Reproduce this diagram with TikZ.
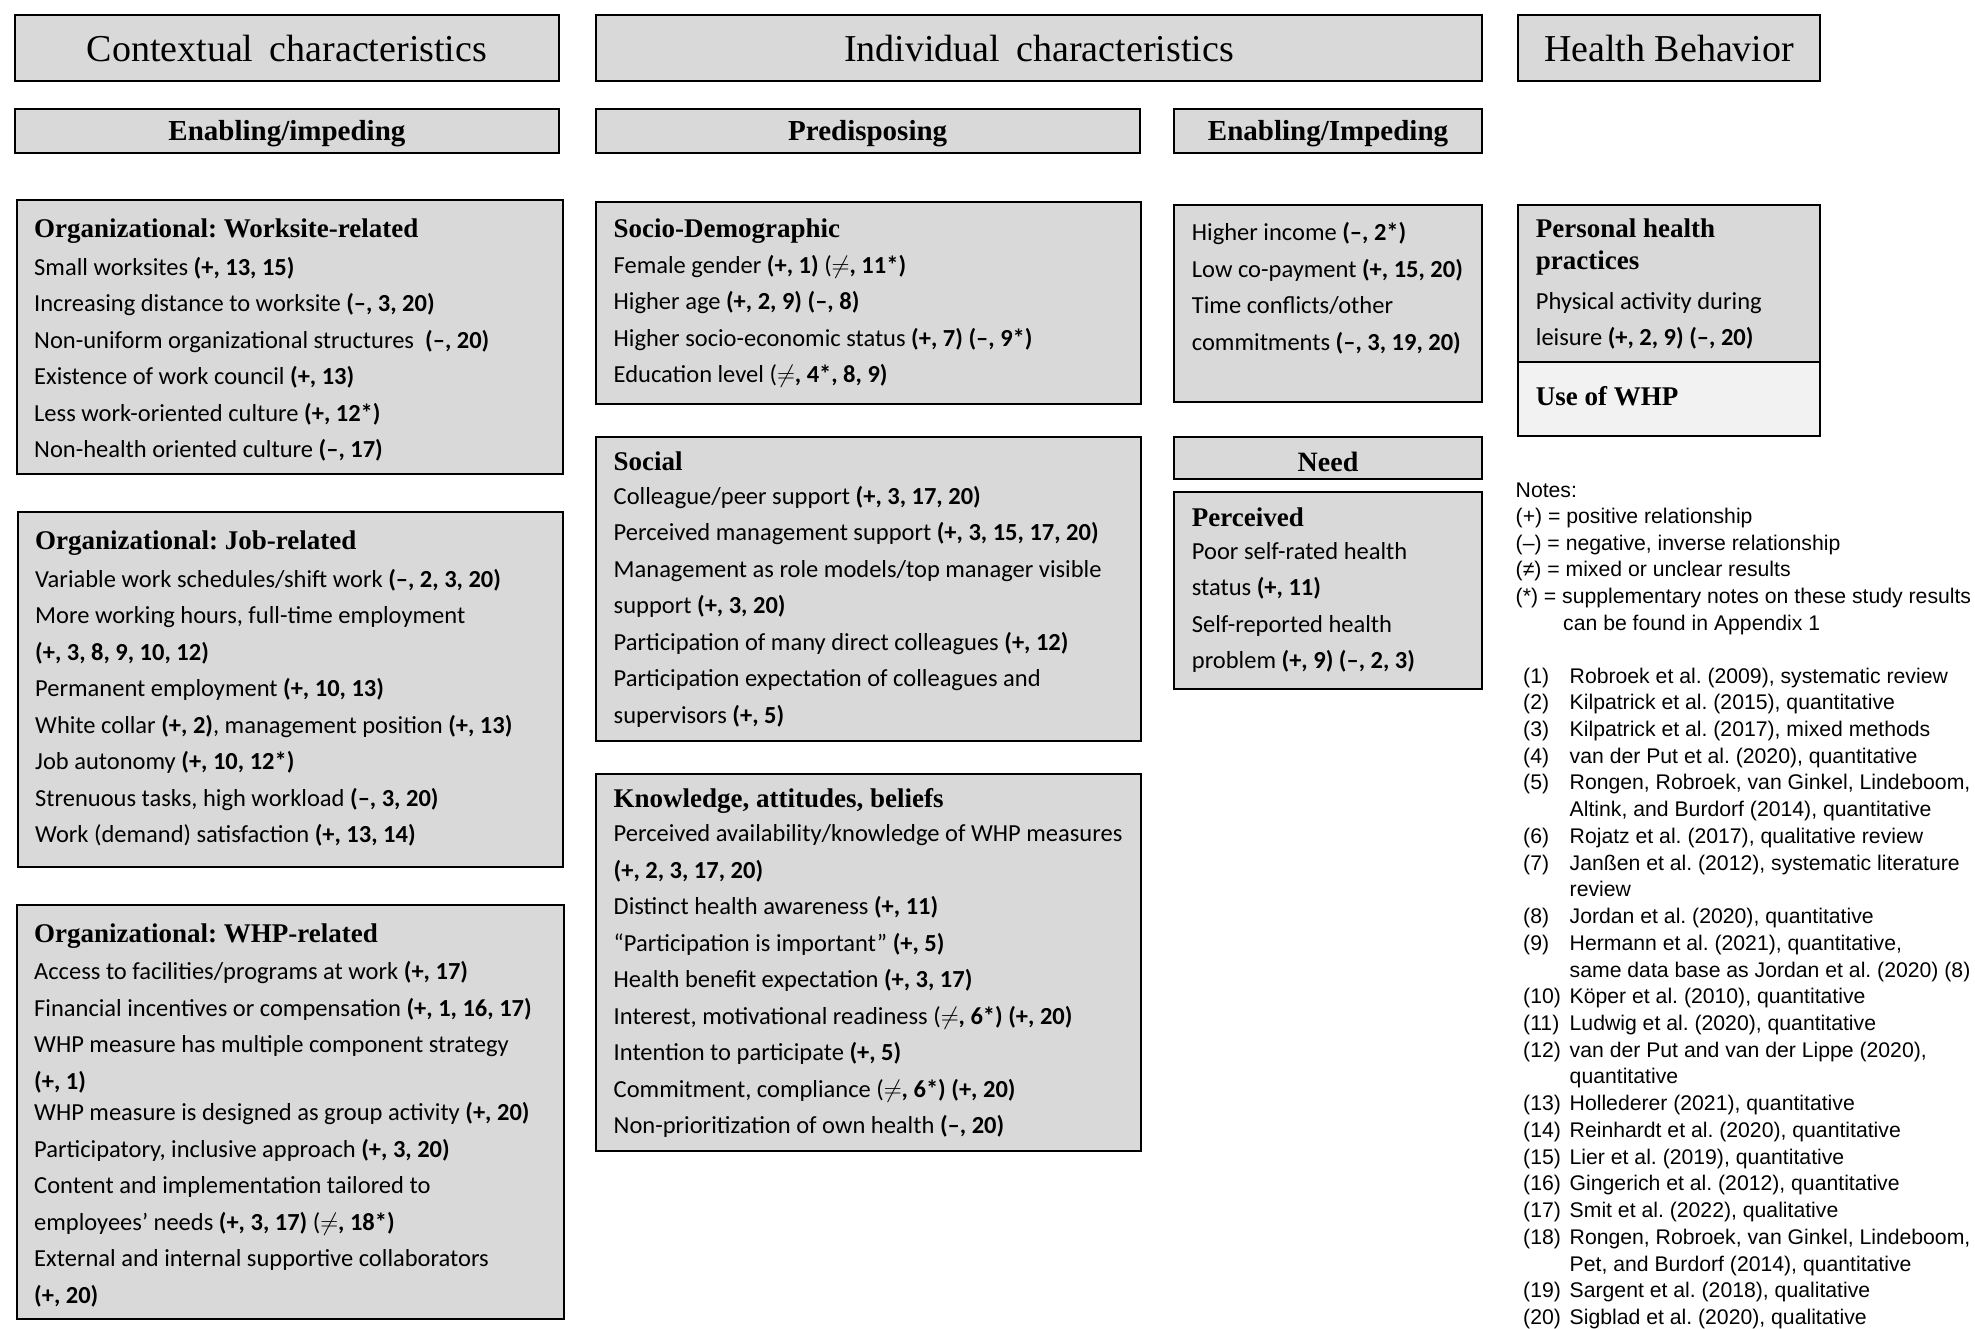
\documentclass[tikz,border=0pt]{standalone}
\usepackage{fontspec}
\setmainfont{Liberation Serif}
\newfontfamily\bodyfont{Carlito}
\newfontfamily\notefont{Liberation Sans}
\usetikzlibrary{calc}
\definecolor{panelgray}{HTML}{D9D9D9}
\definecolor{lightpanel}{HTML}{F2F2F2}
\frenchspacing

% a block of left-aligned lines whose baseline is the first line's
\newcommand{\linestack}[1]{\begin{tabular}[t]{@{}l@{}}#1\end{tabular}}
\newcommand{\refnum}[1]{\makebox[46.5pt][l]{#1}}

\tikzset{
  panel/.style={draw=black, line width=2.4pt, fill=panelgray, inner sep=0pt, anchor=north west},
  headtext/.style={anchor=base, inner sep=0pt, font=\fontsize{38}{40}\selectfont},
  subtext/.style={anchor=base, inner sep=0pt, font=\bfseries\fontsize{29}{32}\selectfont},
  titletext/.style={anchor=base west, inner sep=0pt, font=\bfseries\fontsize{27}{32}\selectfont},
  bodytext/.style={anchor=base west, inner sep=0pt, font=\bodyfont\fontsize{24.5}{36.5}\selectfont},
  notetext/.style={anchor=base west, inner sep=0pt, font=\notefont\fontsize{21.2}{26.6}\selectfont},
  reftext/.style={anchor=base west, inner sep=0pt, font=\notefont\fontsize{21.2}{26.73}\selectfont},
}

\begin{document}
\begin{tikzpicture}[x=1pt, y=-1pt]
\useasboundingbox (0,0) rectangle (1975,1328);
\fill[white] (0,0) rectangle (1975,1328);

% ---------- column headers ----------
\node[panel, minimum width=544.5pt, minimum height=66.5pt] (hctx) at (13.5,13.5) {};
\node[panel, minimum width=886.5pt, minimum height=66.5pt] (hind) at (594.5,13.5) {};
\node[panel, minimum width=302.3pt, minimum height=66.5pt] (hhb) at (1516.7,13.5) {};
\node[headtext] (hctxT) at ($(hctx.north)+(0,47.5)$) {Contextual\hspace{0.18em} characteristics};
\node[headtext] (hindT) at ($(hind.north)+(0,47.5)$) {Individual\hspace{0.18em} characteristics};
\node[headtext] (hhbT) at ($(hhb.north)+(0,47.5)$) {Health Behavior};

% ---------- sub-headers ----------
\node[panel, minimum width=544.5pt, minimum height=44pt] (sctx) at (13.5,108) {};
\node[panel, minimum width=544pt, minimum height=44pt] (spre) at (594.5,108) {};
\node[panel, minimum width=308.3pt, minimum height=44pt] (sena) at (1172.7,108) {};
\node[subtext] (sctxT) at ($(sctx.north)+(0,32)$) {Enabling/impeding};
\node[subtext] (spreT) at ($(spre.north)+(0,32)$) {Predisposing};
\node[subtext] (senaT) at ($(sena.north)+(0,32)$) {Enabling/Impeding};

% ---------- contextual column ----------
\node[panel, minimum width=546pt, minimum height=274pt] (ws) at (16,199) {};
\node[titletext] (wsT) at ($(ws.north west)+(18,38.5)$) {Organizational: Worksite-related};
\node[bodytext] (wsB) at ($(ws.north west)+(18,76)$) {\linestack{%
Small worksites \textbf{(+, 13, 15)}\\
Increasing distance to worksite \textbf{(–, 3, 20)}\\
Non-uniform organizational structures\ \ \textbf{(–, 20)}\\
Existence of work council \textbf{(+, 13)}\\
Less work-oriented culture \textbf{(+, 12*)}\\
Non-health oriented culture \textbf{(–, 17)}}};

\node[panel, minimum width=545pt, minimum height=355pt] (job) at (17,511) {};
\node[titletext] (jobT) at ($(job.north west)+(18,38.5)$) {Organizational: Job-related};
\node[bodytext] (jobB) at ($(job.north west)+(18,76)$) {\linestack{%
Variable work schedules/shift work \textbf{(–, 2, 3, 20)}\\
More working hours, full-time employment\\
\textbf{(+, 3, 8, 9, 10, 12)}\\
Permanent employment \textbf{(+, 10, 13)}\\
White collar \textbf{(+, 2)}, management position \textbf{(+, 13)}\\
Job autonomy \textbf{(+, 10, 12*)}\\
Strenuous tasks, high workload \textbf{(–, 3, 20)}\\
Work (demand) satisfaction \textbf{(+, 13, 14)}}};

\node[panel, minimum width=547pt, minimum height=414pt] (whp) at (16,903.5) {};
\node[titletext] (whpT) at ($(whp.north west)+(18,38.5)$) {Organizational: WHP-related};
\node[bodytext] (whpB) at ($(whp.north west)+(18,76)$) {\linestack{%
Access to facilities/programs at work \textbf{(+, 17)}\\
Financial incentives or compensation \textbf{(+, 1, 16, 17)}\\
WHP measure has multiple component strategy\\
\textbf{(+, 1)}\\[-5pt]
WHP measure is designed as group activity \textbf{(+, 20)}\\
Participatory, inclusive approach \textbf{(+, 3, 20)}\\
Content and implementation tailored to\\
employees’ needs \textbf{(+, 3, 17)} ($\neq$\textbf{, 18*)}\\
External and internal supportive collaborators\\
\textbf{(+, 20)}}};

% ---------- predisposing column ----------
\node[panel, minimum width=545pt, minimum height=201.5pt] (soc) at (594.5,201) {};
\node[titletext] (socT) at ($(soc.north west)+(19,36)$) {Socio-Demographic};
\node[bodytext] (socB) at ($(soc.north west)+(19,72)$) {\linestack{%
Female gender \textbf{(+, 1)} ($\neq$\textbf{, 11*)}\\
Higher age \textbf{(+, 2, 9) (–, 8)}\\
Higher socio-economic status \textbf{(+, 7) (–, 9*)}\\
Education level ($\neq$\textbf{, 4*, 8, 9)}}};

\node[panel, minimum width=545.5pt, minimum height=304pt] (sol) at (594.5,436) {};
\node[titletext] (solT) at ($(sol.north west)+(19,34)$) {Social};
\node[bodytext] (solB) at ($(sol.north west)+(19,68)$) {\linestack{%
Colleague/peer support \textbf{(+, 3, 17, 20)}\\
Perceived management support \textbf{(+, 3, 15, 17, 20)}\\
Management as role models/top manager visible\\
support \textbf{(+, 3, 20)}\\
Participation of many direct colleagues \textbf{(+, 12)}\\
Participation expectation of colleagues and\\
supervisors \textbf{(+, 5)}}};

\node[panel, minimum width=545pt, minimum height=377pt] (kab) at (594.5,772.5) {};
\node[titletext] (kabT) at ($(kab.north west)+(19,34.5)$) {Knowledge, attitudes, beliefs};
\node[bodytext] (kabB) at ($(kab.north west)+(19,69)$) {\linestack{%
Perceived availability/knowledge of WHP measures\\
\textbf{(+, 2, 3, 17, 20)}\\
Distinct health awareness \textbf{(+, 11)}\\
“Participation is important” \textbf{(+, 5)}\\
Health benefit expectation \textbf{(+, 3, 17)}\\
Interest, motivational readiness ($\neq$\textbf{, 6*) (+, 20)}\\
Intention to participate \textbf{(+, 5)}\\
Commitment, compliance ($\neq$\textbf{, 6*) (+, 20)}\\
Non-prioritization of own health \textbf{(–, 20)}}};

% ---------- enabling / need column ----------
\node[panel, minimum width=308.3pt, minimum height=197pt] (inc) at (1172.7,204) {};
\node[bodytext] (incB) at ($(inc.north west)+(19,36.5)$) {\linestack{%
Higher income \textbf{(–, 2*)}\\
Low co-payment \textbf{(+, 15, 20)}\\
Time conflicts/other\\
commitments \textbf{(–, 3, 19, 20)}}};

\node[panel, minimum width=308.3pt, minimum height=42.5pt] (need) at (1172.7,435.5) {};
\node[subtext, font=\bfseries\fontsize{28}{32}\selectfont] (needT) at ($(need.north)+(0,36)$) {Need};

\node[panel, minimum width=308.3pt, minimum height=197pt] (perc) at (1172.7,491) {};
\node[titletext] (percT) at ($(perc.north west)+(19,35)$) {Perceived};
\node[bodytext] (percB) at ($(perc.north west)+(19,68)$) {\linestack{%
Poor self-rated health\\
status \textbf{(+, 11)}\\
Self-reported health\\
problem \textbf{(+, 9) (–, 2, 3)}}};

% ---------- health behavior column ----------
\node[panel, minimum width=302.3pt, minimum height=157pt] (pers) at (1516.7,204) {};
\node[panel, fill=lightpanel, minimum width=302.3pt, minimum height=74pt] (use) at (1516.7,361) {};
\node[titletext] (persT) at ($(pers.north west)+(19,33)$) {\linestack{Personal health\\practices}};
\node[bodytext] (persB) at ($(pers.north west)+(19,105)$) {\linestack{%
Physical activity during\\
leisure \textbf{(+, 2, 9) (–, 20)}}};
\node[titletext] (useT) at ($(use.north west)+(19,44)$) {Use of WHP};

% ---------- notes and study list ----------
\node[notetext] (notes) at (1515.5,497) {\linestack{%
Notes:\\
(+) = positive relationship\\
(–) = negative, inverse relationship\\
(≠) = mixed or unclear results\\
(*) = supplementary notes on these study results\\
\hspace*{47.5pt}can be found in Appendix 1}};

\node[reftext] (refs) at (1523,683) {\linestack{%
\refnum{(1)}Robroek et al. (2009), systematic review\\
\refnum{(2)}Kilpatrick et al. (2015), quantitative\\
\refnum{(3)}Kilpatrick et al. (2017), mixed methods\\
\refnum{(4)}van der Put et al. (2020), quantitative\\
\refnum{(5)}Rongen, Robroek, van Ginkel, Lindeboom,\\
\refnum{}Altink, and Burdorf (2014), quantitative\\
\refnum{(6)}Rojatz et al. (2017), qualitative review\\
\refnum{(7)}Janßen et al. (2012), systematic literature\\
\refnum{}review\\
\refnum{(8)}Jordan et al. (2020), quantitative\\
\refnum{(9)}Hermann et al. (2021), quantitative,\\
\refnum{}same data base as Jordan et al. (2020) (8)\\
\refnum{(10)}Köper et al. (2010), quantitative\\
\refnum{(11)}Ludwig et al. (2020), quantitative\\
\refnum{(12)}van der Put and van der Lippe (2020),\\
\refnum{}quantitative\\
\refnum{(13)}Hollederer (2021), quantitative\\
\refnum{(14)}Reinhardt et al. (2020), quantitative\\
\refnum{(15)}Lier et al. (2019), quantitative\\
\refnum{(16)}Gingerich et al. (2012), quantitative\\
\refnum{(17)}Smit et al. (2022), qualitative\\
\refnum{(18)}Rongen, Robroek, van Ginkel, Lindeboom,\\
\refnum{}Pet, and Burdorf (2014), quantitative\\
\refnum{(19)}Sargent et al. (2018), qualitative\\
\refnum{(20)}Sigblad et al. (2020), qualitative}};
\end{tikzpicture}
\end{document}
